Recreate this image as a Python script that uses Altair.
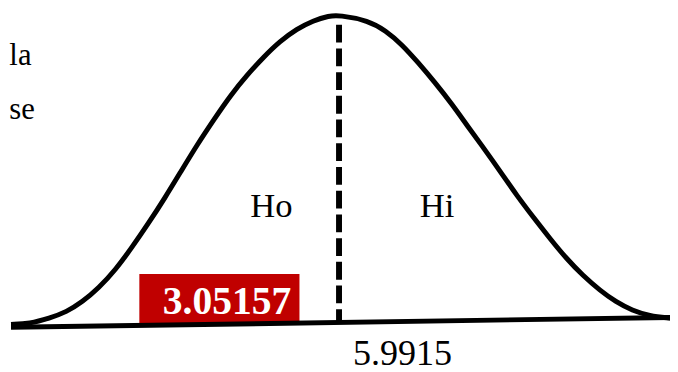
import altair as alt
import pandas as pd

# Bell curve (x in chart units, y as density)
curve_x = [0.01, 0.35, 0.71, 1.02, 1.31, 1.61, 1.92, 2.21, 2.51, 2.82, 3.11, 3.41,
           3.72, 4.01, 4.32, 4.62, 4.91, 5.22, 5.52, 5.81, 5.99, 6.53, 6.84, 7.14,
           7.43, 7.74, 8.05, 8.33, 8.64, 8.94, 9.23, 9.54, 9.85, 10.14, 10.44,
           10.75, 11.04, 11.34, 11.65, 12.03]
curve_y = [0.000, 0.001, 0.008, 0.016, 0.029, 0.047, 0.071, 0.099, 0.130, 0.164,
           0.198, 0.233, 0.266, 0.296, 0.323, 0.346, 0.366, 0.382, 0.393, 0.399,
           0.400, 0.393, 0.380, 0.362, 0.339, 0.313, 0.285, 0.257, 0.227, 0.197,
           0.167, 0.138, 0.110, 0.085, 0.063, 0.044, 0.029, 0.018, 0.011, 0.008]

critical_value = 5.9915
critical_top = 0.3876
critical_bottom = 0.0038

baseline_x = [0.01, 12.03]
baseline_y = [-0.0038, 0.0089]

region_labels = ["Ho", "Hi"]
region_x = [4.76, 7.78]
region_y = [0.139, 0.139]

value_label = "5.9915"
value_x = 7.15
value_y = -0.0524

stat_label = "3.05157"
stat_x = 3.95
stat_y = 0.0128
stat_box = [2.35, 5.27, 0.0013, 0.0652]  # x, x2, y, y2

side_labels = ["la", "se"]
side_x = [-0.02, -0.02]
side_y = [0.336, 0.266]

xs = alt.Scale(domain=[-0.045, 12.027], nice=False, zero=False)
ys = alt.Scale(domain=[-0.0588, 0.4064], nice=False, zero=False)

curve_df = pd.DataFrame({"x": curve_x, "y": curve_y})
box_df = pd.DataFrame({"x": [stat_box[0]], "x2": [stat_box[1]],
                       "y": [stat_box[2]], "y2": [stat_box[3]]})
stat_df = pd.DataFrame({"x": [stat_x], "y": [stat_y], "t": [stat_label]})
base_df = pd.DataFrame({"x": [baseline_x[0]], "x2": [baseline_x[1]],
                        "y": [baseline_y[0]], "y2": [baseline_y[1]]})
crit_df = pd.DataFrame({"x": [critical_value], "y": [critical_top], "y2": [critical_bottom]})
region_df = pd.DataFrame({"x": region_x, "y": region_y, "t": region_labels})
value_df = pd.DataFrame({"x": [value_x], "y": [value_y], "t": [value_label]})
side_df = pd.DataFrame({"x": side_x, "y": side_y, "t": side_labels})

X = lambda f="x": alt.X(f"{f}:Q", scale=xs, axis=None)
Y = lambda f="y": alt.Y(f"{f}:Q", scale=ys, axis=None)

SERIF = "Liberation Serif, Times New Roman, serif"

box = alt.Chart(box_df).mark_rect(color="#C00000").encode(
    x=X(), x2="x2:Q", y=Y(), y2="y2:Q")

stat = alt.Chart(stat_df).mark_text(
    font=SERIF, fontSize=40, fontWeight="bold", color="white",
    align="center", baseline="alphabetic").encode(x=X(), y=Y(), text="t:N")

base = alt.Chart(base_df).mark_rule(color="black", strokeWidth=5).encode(
    x=X(), x2="x2:Q", y=Y(), y2="y2:Q")

curve = alt.Chart(curve_df).mark_line(
    color="black", strokeWidth=5, interpolate="basis").encode(x=X(), y=Y())

crit = alt.Chart(crit_df).mark_rule(
    color="black", strokeWidth=6, strokeDash=[18, 6]).encode(
    x=X(), y=Y(), y2="y2:Q")

regions = alt.Chart(region_df).mark_text(
    font=SERIF, fontSize=35, color="black",
    align="center", baseline="alphabetic").encode(x=X(), y=Y(), text="t:N")

value = alt.Chart(value_df).mark_text(
    font=SERIF, fontSize=36.5, color="black",
    align="center", baseline="alphabetic").encode(x=X(), y=Y(), text="t:N")

side = alt.Chart(side_df).mark_text(
    font=SERIF, fontSize=31, color="black",
    align="left", baseline="alphabetic").encode(x=X(), y=Y(), text="t:N")

chart = alt.layer(box, stat, base, curve, crit, regions, value, side).properties(
    width=670, height=364,
    autosize=alt.AutoSizeParams(type="none"),
    padding=0,
).configure_view(stroke=None)

chart.save("out.html", embed_options={"renderer": "svg", "actions": False})
